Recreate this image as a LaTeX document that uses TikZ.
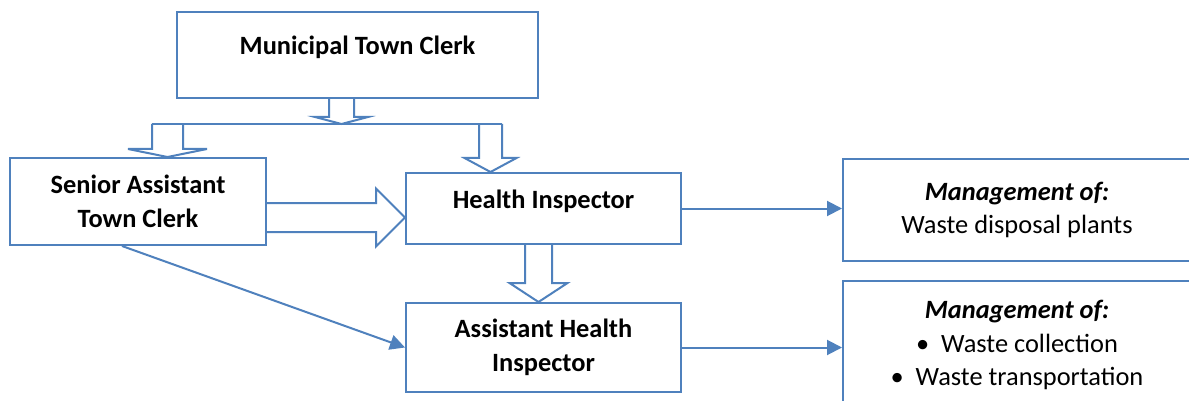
\documentclass[tikz,border=0pt]{standalone}
\usepackage{fontspec}
\setmainfont{Carlito}
\usetikzlibrary{calc,arrows.meta}
\definecolor{boxblue}{RGB}{79,129,189}

% hollow block arrow pointing down: start, tip, shaft half width, head half width, head length
\newcommand{\blockdown}[5]{%
  \draw[block] ($(#1)+(-#3,0)$) -- ($(#2)+(-#3,-#5)$) -- ($(#2)+(-#4,-#5)$) -- (#2)
    -- ($(#2)+(#4,-#5)$) -- ($(#2)+(#3,-#5)$) -- ($(#1)+(#3,0)$);}
% hollow block arrow pointing right
\newcommand{\blockright}[5]{%
  \draw[block] ($(#1)+(0,-#3)$) -- ($(#2)+(-#5,-#3)$) -- ($(#2)+(-#5,-#4)$) -- (#2)
    -- ($(#2)+(-#5,#4)$) -- ($(#2)+(-#5,#3)$) -- ($(#1)+(0,#3)$);}

\begin{document}
\begin{tikzpicture}[x=0.5pt, y=-0.5pt,
    box/.style={draw=boxblue, line width=1pt, fill=white, inner sep=0pt, align=center,
                font=\fontsize{13.2pt}{16.8pt}\selectfont\bfseries},
    mgt/.style={box, font=\fontsize{13.2pt}{16.8pt}\selectfont},
    raised/.style={text height=0pt, text depth=0pt},
    block/.style={draw=boxblue, line width=1pt, line join=miter},
    arrow/.style={-{Triangle[length=7.5pt, width=7.5pt]}, draw=boxblue, line width=1pt}
]
    \useasboundingbox (0,0) rectangle (1189,401);
    \fill[white] (0,0) rectangle (1189,401);
    \clip (0,0) rectangle (1189,401);

    % Offices
    \node[box, raised, minimum width=180.5pt, minimum height=43pt] (clerk) at (357.5,55) {Municipal Town Clerk};
    \node[box, minimum width=128pt, minimum height=43.5pt] (senior) at (138,201.5) {Senior Assistant\\Town Clerk};
    \node[box, raised, minimum width=137.5pt, minimum height=35.5pt] (hi) at (543.5,208.5) {Health Inspector};
    \node[box, minimum width=137.5pt, minimum height=44.5pt] (ahi) at (543.5,347.5) {Assistant Health\\Inspector};

    % Duties
    \node[mgt, minimum width=174pt, minimum height=51pt] (mgtA) at (1017,210)
        {{\bfseries\itshape Management of:}\\Waste disposal plants};
    \node[mgt, minimum width=174pt, minimum height=64pt] (mgtB) at (1017,345)
        {{\bfseries\itshape Management of:}\\\textbullet\hspace{0.45em}Waste collection\\\textbullet\hspace{0.45em}Waste transportation};

    % Block arrows
    \coordinate (split) at (341.5,124);
    \coordinate (lbranch) at (167.5,124);
    \coordinate (rbranch) at (490.5,124);
    \coordinate (hidown) at (538.5,244);
    \blockdown{clerk.south -| split}{split}{12.5}{26.5}{7}
    \draw[block] (152,124) -- (502,124);
    \blockdown{lbranch}{senior.north -| lbranch}{15.5}{39.5}{8}
    \blockdown{rbranch}{hi.north -| rbranch}{11.5}{26}{14}
    \blockdown{hidown}{ahi.north -| hidown}{13.5}{29}{19}
    \coordinate (side) at (0,217.5);
    \blockright{senior.east |- side}{hi.west |- side}{14.5}{29}{29}

    % Line arrows
    \draw[arrow] (hi.east) -- (hi.east -| mgtA.west);
    \draw[arrow] (ahi.east) -- (ahi.east -| mgtB.west);
    \draw[arrow] ($(senior.south)+(-16,0)$) -- (ahi.west);
\end{tikzpicture}
\end{document}
